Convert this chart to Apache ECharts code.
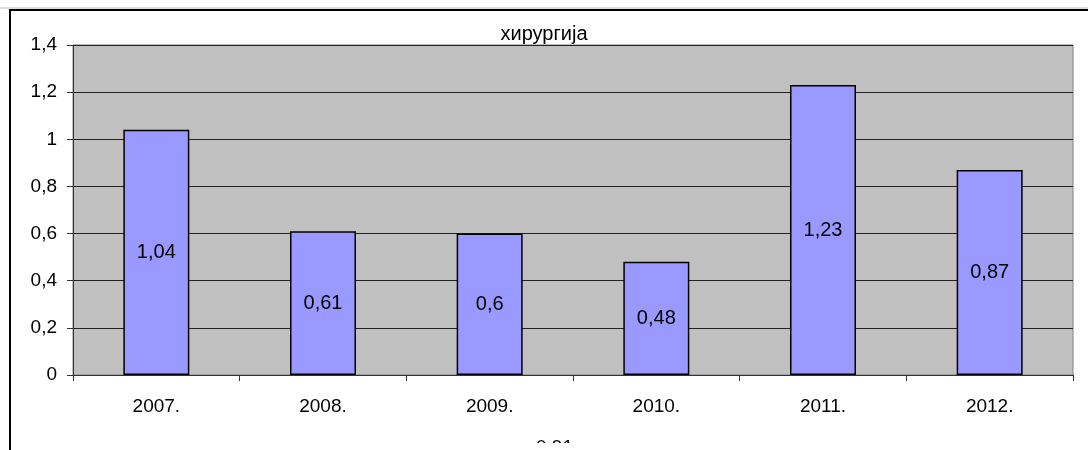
<!DOCTYPE html>
<html>
<head>
<meta charset="utf-8">
<script src="https://cdn.jsdelivr.net/npm/echarts@6/dist/echarts.min.js"></script>
<style>
html,body{margin:0;padding:0;background:#fff;}
#c{width:1088px;height:450px;}
</style>
</head>
<body>
<div id="c"></div>
<script>
var categories = ['2007.', '2008.', '2009.', '2010.', '2011.', '2012.'];
var values = [1.04, 0.61, 0.6, 0.48, 1.23, 0.87];
var yTicks = [0, 0.2, 0.4, 0.6, 0.8, 1, 1.2, 1.4];
var titleText = 'хирургија';
var bottomText = '0,91';

function fmt(v) { return String(v).replace('.', ','); }

var chart = echarts.init(document.getElementById('c'), null, {renderer: 'canvas'});
var FONT = '"Liberation Sans", Arial, sans-serif';
chart.setOption({
  animation: false,
  backgroundColor: '#fff',
  textStyle: {fontFamily: FONT},
  title: {
    text: titleText,
    left: 'center',
    top: 19,
    textStyle: {fontFamily: FONT, fontSize: 20, fontWeight: 'normal', color: '#000'}
  },
  graphic: [
    {type: 'text', left: 536, top: 438,
     style: {text: bottomText, font: '19px ' + FONT, fill: '#000'}, z: 50},
    {type: 'rect', shape: {x: 12, y: 443, width: 1100, height: 20},
     style: {fill: '#fff'}, z: 60},
    {type: 'rect', shape: {x: 10, y: 10, width: 1200, height: 600},
     style: {fill: null, stroke: '#000', lineWidth: 2}, z: 100},
    {type: 'line', shape: {x1: 0, y1: 8, x2: 1088, y2: 8},
     style: {stroke: '#bbb', lineWidth: 1}, z: 100}
  ],
  grid: {
    left: 73, right: 15, top: 45, bottom: 75,
    show: true, backgroundColor: '#c0c0c0', borderColor: '#808080', borderWidth: 1
  },
  xAxis: {
    type: 'category',
    data: categories,
    axisLine: {lineStyle: {color: '#333', width: 1}},
    axisTick: {show: true, length: 6, inside: false, lineStyle: {color: '#333'}},
    axisLabel: {fontFamily: FONT, fontSize: 19, color: '#000', margin: 22}
  },
  yAxis: {
    type: 'value',
    min: 0, max: yTicks[yTicks.length - 1], interval: 0.2,
    axisLine: {show: true, lineStyle: {color: '#333', width: 1}},
    axisTick: {show: true, length: 6, lineStyle: {color: '#333'}},
    splitLine: {show: true, lineStyle: {color: '#222', width: 1}},
    axisLabel: {fontFamily: FONT, fontSize: 19, color: '#000', margin: 16,
      formatter: function (v) { return fmt(Math.round(v * 10) / 10); }}
  },
  series: [{
    type: 'bar',
    data: values,
    barWidth: 66,
    itemStyle: {color: '#9999ff', borderColor: '#000', borderWidth: 1.5},
    label: {
      show: true, position: 'inside',
      fontFamily: FONT, fontSize: 20, color: '#000',
      formatter: function (p) { return fmt(p.value); }
    }
  }]
});
</script>
</body>
</html>
